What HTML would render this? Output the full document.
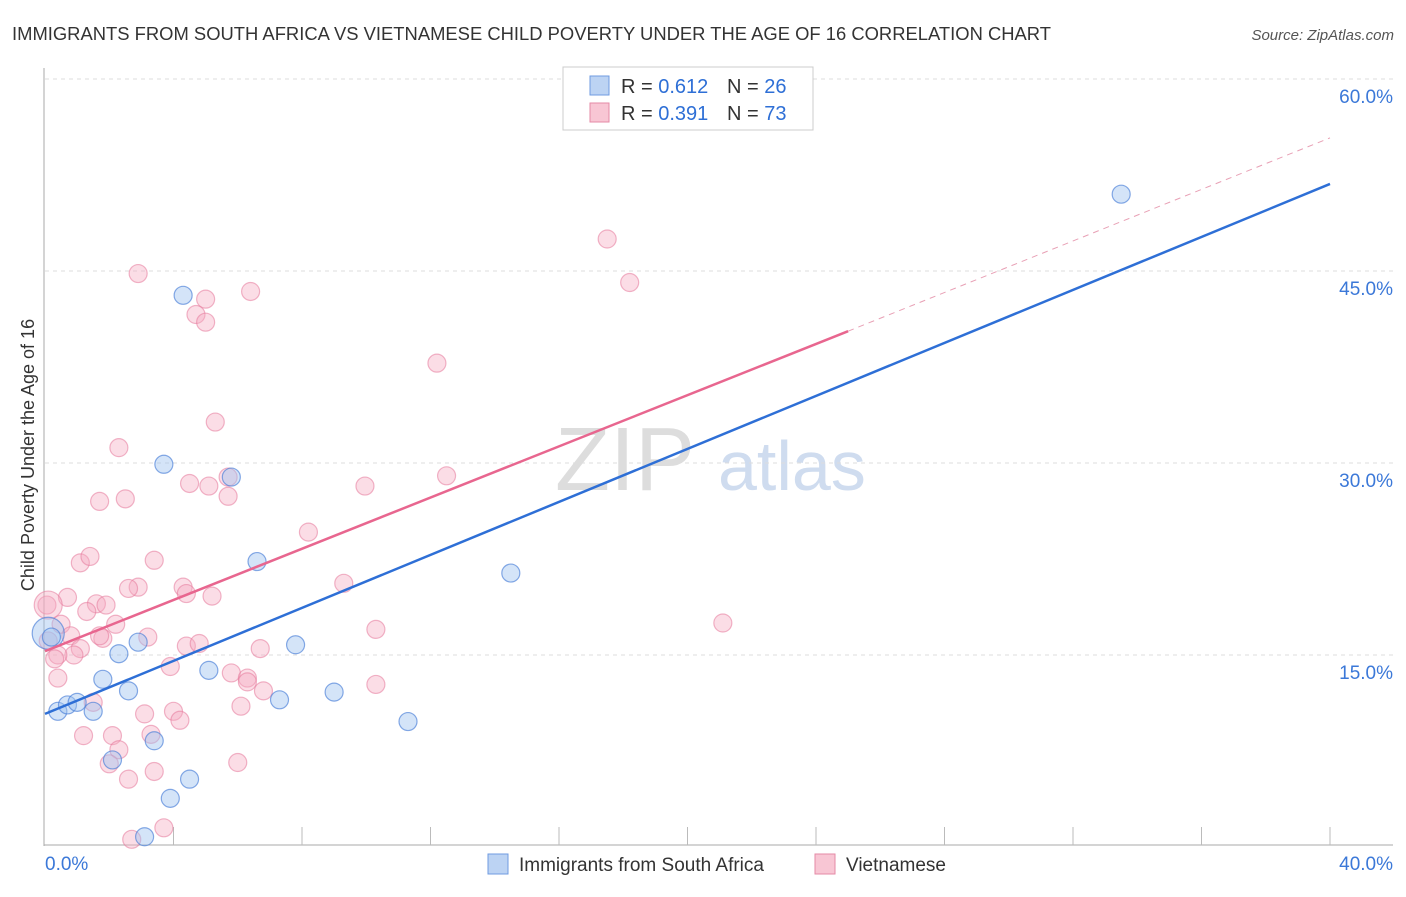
<!DOCTYPE html>
<html><head><meta charset="utf-8"><style>
body{margin:0;background:#fff;font-family:"Liberation Sans",sans-serif}
svg text{font-family:"Liberation Sans",sans-serif}
</style></head><body>
<svg id="c" width="1406" height="892">
<text x="12" y="40" font-size="18" fill="#333" textLength="1039" lengthAdjust="spacingAndGlyphs">IMMIGRANTS FROM SOUTH AFRICA VS VIETNAMESE CHILD POVERTY UNDER THE AGE OF 16 CORRELATION CHART</text>
<text x="1394" y="40" font-size="15" fill="#555" font-style="italic" text-anchor="end">Source: ZipAtlas.com</text>
<text x="34" y="455" font-size="18" fill="#333" text-anchor="middle" transform="rotate(-90 34 455)">Child Poverty Under the Age of 16</text>
<text x="555" y="490" font-size="90" fill="#ddd" font-family="Liberation Serif">ZIP</text>
<text x="718" y="490" font-size="70" fill="#cfdcef">atlas</text>
<g id="grid"></g><g id="pts"></g><g id="lines"></g>
<g>
<rect x="563" y="67" width="250" height="63" fill="#fff" stroke="#ccc"/>
<rect x="590" y="76" width="19" height="19" fill="#bcd3f3" stroke="#6f9be0"/>
<text x="621" y="93" font-size="20" fill="#333">R = <tspan fill="#2e6fd6">0.612</tspan></text>
<text x="727" y="93" font-size="20" fill="#333">N = <tspan fill="#2e6fd6">26</tspan></text>
<rect x="590" y="103" width="19" height="19" fill="#f8c6d4" stroke="#e58aa6"/>
<text x="621" y="120" font-size="20" fill="#333">R = <tspan fill="#2e6fd6">0.391</tspan></text>
<text x="727" y="120" font-size="20" fill="#333">N = <tspan fill="#2e6fd6">73</tspan></text>
</g>
<g>
<rect x="488" y="854" width="20" height="20" fill="#bcd3f3" stroke="#6f9be0"/>
<text x="519" y="871" font-size="19" fill="#333">Immigrants from South Africa</text>
<rect x="815" y="854" width="20" height="20" fill="#f8c6d4" stroke="#e58aa6"/>
<text x="846" y="871" font-size="19" fill="#333">Vietnamese</text>
</g>
</svg>
<script>
const yTicks=[15,30,45,60];
const xLabels=["0.0%","40.0%"];
const blueX=[33.5,4.3,3.7,5.8,6.6,14.5,7.8,2.9,2.3,0.1,0.2,1.8,2.6,5.1,7.3,9.0,0.4,0.7,1.0,1.5,11.3,3.4,2.1,4.5,3.9,3.1];
const blueY=[51.0,43.1,29.9,28.9,22.3,21.4,15.8,16.0,15.1,16.7,16.4,13.1,12.2,13.8,11.5,12.1,10.6,11.1,11.3,10.6,9.8,8.3,6.8,5.3,3.8,0.8];
const pinkX=[2.9,17.5,18.2,6.4,5.0,4.7,5.0,12.2,5.3,2.3,12.5,5.7,4.5,5.1,9.96,5.7,1.7,2.5,8.2,1.1,1.4,3.4,9.3,4.3,4.4,2.9,2.6,5.2,0.7,1.6,1.9,1.3,0.06,21.1,10.3,2.2,0.5,0.1,0.8,1.8,1.7,3.2,4.4,4.8,6.7,1.1,0.9,0.4,0.3,3.9,5.8,6.3,6.3,0.4,6.8,10.3,1.5,4.0,3.1,4.2,6.1,1.2,2.1,3.3,2.3,2.0,6.0,3.4,2.6,3.7,2.7,0.1];
const pinkY=[44.8,47.5,44.1,43.4,42.8,41.6,41.0,37.8,33.2,31.2,29.0,28.9,28.4,28.2,28.2,27.4,27.0,27.2,24.6,22.2,22.7,22.4,20.6,20.3,19.8,20.3,20.2,19.6,19.5,19.0,18.9,18.4,18.9,17.5,17.0,17.4,17.4,16.1,16.5,16.3,16.5,16.4,15.7,15.9,15.5,15.5,15.0,15.0,14.7,14.1,13.6,13.2,12.9,13.2,12.2,12.7,11.3,10.6,10.4,9.9,11.0,8.7,8.7,8.8,7.6,6.5,6.6,5.9,5.3,1.5,0.6,18.9];
const X=v=>45+v/40*1285, Y=v=>847-v*12.8;
const NS="http://www.w3.org/2000/svg";
function mk(t,a,p){const e=document.createElementNS(NS,t);for(const k in a)e.setAttribute(k,a[k]);p.appendChild(e);return e;}
const g=document.getElementById('grid'),svg=document.getElementById('c');
yTicks.forEach(v=>{
 const l=mk('line',{x1:45,x2:1393,y1:Y(v),y2:Y(v),stroke:'#ddd','stroke-dasharray':'4 4'},g);
 
 
 const t=mk('text',{x:1393,y:Y(v)+24,'font-size':19,fill:'#3b78d8','text-anchor':'end'},g);
 t.textContent=v.toFixed(1)+'%';
 
 
});
mk('line',{x1:44,x2:44,y1:68,y2:846,stroke:'#aaa'},g);
mk('line',{x1:44,x2:1393,y1:845,y2:845,stroke:'#aaa'},g);
for(let i=1;i<=10;i++){const x=X(i*4);const tk=mk('line',{x1:x,x2:x,y1:827,y2:845,stroke:'#bbb'},g);
 
 }
[[0,'start',45],[1,'end',1393]].forEach(([i,a,x])=>{const t=mk('text',{x:x,y:870,'font-size':19,fill:'#3b78d8','text-anchor':a},g);t.textContent=xLabels[i];
 
 });
const p=document.getElementById('pts');
pinkX.forEach((x,i)=>{const c=mk('circle',{cx:X(x),cy:Y(pinkY[i]),r:i==pinkX.length-1?14:9,fill:'rgba(246,170,192,0.4)',stroke:'rgba(230,120,155,0.55)','stroke-width':1.2},p);
 
 });
blueX.forEach((x,i)=>{const c=mk('circle',{cx:X(x),cy:Y(blueY[i]),r:i==9?16:9,fill:'rgba(160,195,240,0.45)',stroke:'rgba(70,125,215,0.65)','stroke-width':1.2},p);
 
 });
const L=document.getElementById('lines');
let e=mk('line',{x1:X(0),y1:Y(10.4),x2:X(40),y2:Y(51.8),stroke:'#2e6fd6','stroke-width':2.5},L);


e=mk('line',{x1:X(0),y1:Y(15.3),x2:X(25),y2:Y(40.3),stroke:'#e8668f','stroke-width':2.5},L);


e=mk('line',{x1:X(25),y1:Y(40.3),x2:X(40),y2:Y(55.4),stroke:'#e8a0b5','stroke-width':1,'stroke-dasharray':'6 5'},L);


</script>
</body></html>
